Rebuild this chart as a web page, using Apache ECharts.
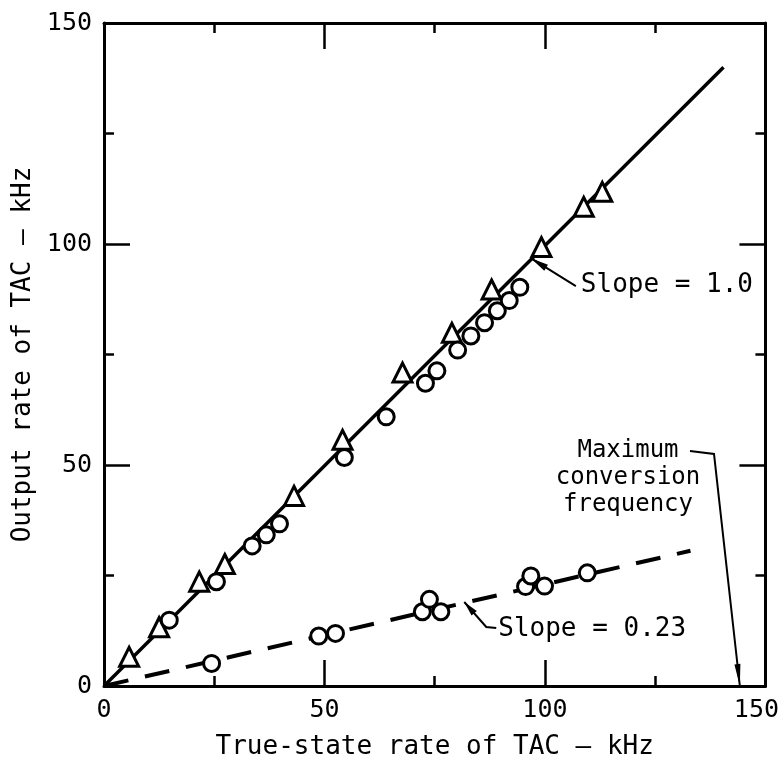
<!DOCTYPE html>
<html>
<head>
<meta charset="utf-8">
<script src="https://cdn.jsdelivr.net/npm/echarts@6/dist/echarts.min.js"></script>
<style>
  html, body { margin: 0; padding: 0; background: #fff; }
  #chart { width: 782px; height: 777px; }
</style>
</head>
<body>
<div id="chart"></div>
<script>
// Axis range and ticks (kHz)
const axisMin = 0;
const axisMax = 150;
const majorStep = 50;

// Triangles: measured output rate vs true-state rate
const triangleX = [5.7, 12.5, 21.6, 27.4, 43.1, 54.1, 67.7, 78.9, 87.9, 99.2, 108.8, 113.0];
const triangleY = [6.6, 13.3, 23.6, 27.6, 43.0, 55.7, 70.9, 79.9, 89.7, 99.3, 108.4, 111.8];

// Circles lying on the slope = 1.0 line
const circleX = [14.8, 25.5, 33.6, 36.8, 39.8, 54.5, 64.0, 72.9, 75.5, 80.2, 83.2, 86.3, 89.2, 91.9, 94.3];
const circleY = [14.9, 23.6, 31.7, 34.2, 36.7, 51.7, 60.9, 68.5, 71.3, 76.0, 79.2, 82.2, 84.9, 87.2, 90.2];

// Circles lying on the slope = 0.23 line
const lowCircleX = [24.4, 48.7, 52.5, 72.2, 73.8, 76.4, 95.6, 96.8, 99.9, 109.6];
const lowCircleY = [5.1, 11.3, 11.9, 16.8, 19.6, 16.8, 22.5, 24.9, 22.6, 25.6];

// Fitted lines
const unitSlopeLine = [[0, 0], [140.5, 140]];
const lowSlopeLine = [[0, 0], [133, 30.6]];

// Annotation anchor points (data coordinates)
const slopeOneTip = [96.8, 96.8];
const slopeLowTip = [81.7, 19.0];
const maxFreqTip = [144.2, 0];

const FONT = "'DejaVu Sans Mono', 'Liberation Mono', monospace";
const INK = '#000';

const zip = (xs, ys) => xs.map((x, i) => [x, ys[i]]);

const chart = echarts.init(document.getElementById('chart'), null, { renderer: 'canvas' });

function axisCommon(showLabel) {
  return {
    type: 'value',
    min: axisMin,
    max: axisMax,
    interval: majorStep,
    axisLine: { show: true, onZero: false, lineStyle: { color: INK, width: 3 } },
    axisTick: { show: true, inside: true, length: 26, lineStyle: { color: INK, width: 2.5 } },
    minorTick: { show: true, splitNumber: 2, length: 10, lineStyle: { color: INK, width: 2.5 } },
    splitLine: { show: false },
    minorSplitLine: { show: false },
    axisLabel: {
      show: showLabel,
      color: INK,
      fontFamily: FONT,
      fontSize: 25,
      margin: 12
    }
  };
}

const xBottom = axisCommon(true);
// keep the last label inside the canvas edge
xBottom.axisLabel.formatter = (v) => (v === axisMax ? '{edge|' + v + '}' : '' + v);
xBottom.axisLabel.rich = {
  edge: { fontFamily: FONT, fontSize: 25, color: INK, padding: [0, 18, 0, 0] }
};

const markerStyle = { color: '#fff', borderColor: INK, borderWidth: 3, opacity: 1 };

const option = {
  animation: false,
  backgroundColor: '#fff',
  grid: { left: 104, right: 15, top: 23, bottom: 91, containLabel: false },
  xAxis: [
    Object.assign(xBottom, {
      position: 'bottom',
      name: 'True-state rate of TAC — kHz',
      nameLocation: 'middle',
      nameGap: 48,
      nameTextStyle: { color: INK, fontFamily: FONT, fontSize: 26 }
    }),
    Object.assign(axisCommon(false), { position: 'top' })
  ],
  yAxis: [
    Object.assign(axisCommon(true), {
      position: 'left',
      name: 'Output rate of TAC — kHz',
      nameLocation: 'middle',
      nameGap: 58,
      nameTextStyle: { color: INK, fontFamily: FONT, fontSize: 26 }
    }),
    Object.assign(axisCommon(false), { position: 'right' })
  ],
  series: [
    {
      type: 'line',
      data: unitSlopeLine,
      symbol: 'none',
      lineStyle: { color: INK, width: 3.5 },
      z: 1
    },
    {
      type: 'line',
      data: lowSlopeLine,
      symbol: 'none',
      lineStyle: { color: INK, width: 4, type: [25, 17] },
      z: 1
    },
    {
      type: 'scatter',
      data: zip(triangleX, triangleY),
      symbol: 'triangle',
      symbolSize: 19,
      itemStyle: markerStyle,
      z: 3
    },
    {
      type: 'scatter',
      data: zip(circleX, circleY),
      symbol: 'circle',
      symbolSize: 16,
      itemStyle: markerStyle,
      z: 3
    },
    {
      type: 'scatter',
      data: zip(lowCircleX, lowCircleY),
      symbol: 'circle',
      symbolSize: 16,
      itemStyle: markerStyle,
      z: 3
    }
  ]
};

chart.setOption(option);

// Leader lines with filled arrowheads for the annotations
function arrowHead(from, tip, len, half) {
  const dx = tip[0] - from[0], dy = tip[1] - from[1];
  const d = Math.hypot(dx, dy) || 1;
  const ux = dx / d, uy = dy / d;
  const bx = tip[0] - ux * len, by = tip[1] - uy * len;
  return {
    type: 'polygon',
    shape: { points: [tip, [bx - uy * half, by + ux * half], [bx + uy * half, by - ux * half]] },
    style: { fill: INK },
    z: 10
  };
}
function leader(points) {
  return {
    type: 'polyline',
    shape: { points: points },
    style: { stroke: INK, lineWidth: 2, fill: null },
    z: 10
  };
}
function label(text, x, y, align, size) {
  return {
    type: 'text',
    x: x, y: y,
    style: {
      text: text, fill: INK, font: (size || 26) + 'px ' + FONT,
      align: align || 'left', verticalAlign: 'middle', lineHeight: 27
    },
    z: 10
  };
}

const toPx = (p) => chart.convertToPixel({ gridIndex: 0 }, p);
const t1 = toPx(slopeOneTip);
const t2 = toPx(slopeLowTip);
const t3 = toPx(maxFreqTip);

const oneTail = [t1[0] + 45, t1[1] + 28];
const lowBend = [t2[0] + 22, t2[1] + 25];
const lowTail = [lowBend[0] + 10, lowBend[1] + 1];
const maxStart = [690, 451];
const maxBend = [714, 454];

chart.setOption({
  graphic: [
    leader([t1, oneTail]),
    arrowHead(oneTail, t1, 18, 3.5),
    label('Slope = 1.0', oneTail[0] + 5, oneTail[1] - 1),

    leader([t2, lowBend, lowTail]),
    arrowHead(lowBend, t2, 15, 3.5),
    label('Slope = 0.23', lowTail[0] + 2, lowTail[1] + 1),

    label('Maximum\nconversion\nfrequency', 628, 478, 'center', 24),
    leader([maxStart, maxBend, t3]),
    arrowHead(maxBend, t3, 22, 3)
  ]
});
</script>
</body>
</html>
